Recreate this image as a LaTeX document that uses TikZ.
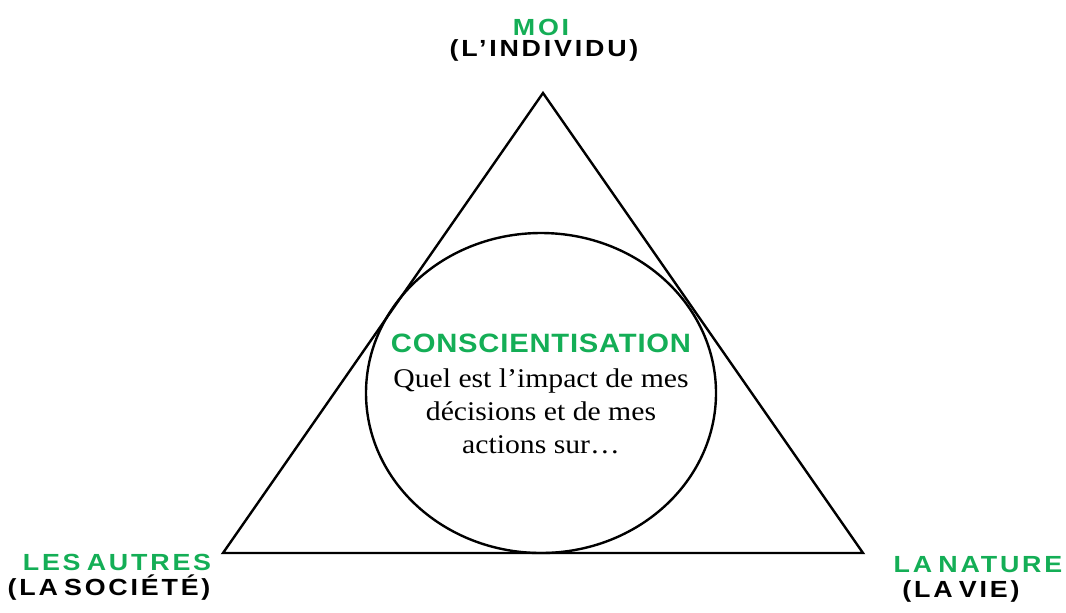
\documentclass[tikz,border=0pt]{standalone}
\usepackage{fontspec}
\setmainfont{Liberation Serif}[FakeStretch=1.1]
\newfontfamily\labelfont{Liberation Sans}[FakeStretch=1.15,LetterSpace=12,WordSpace=0.6]
\newfontfamily\titlefont{Liberation Sans}[FakeStretch=1.1,LetterSpace=3]
\definecolor{moigreen}{RGB}{20,174,86}
\begin{document}
\begin{tikzpicture}[x=0.75pt,y=-0.75pt,
                    line width=1.8pt,
                    corner label/.style={anchor=base,inner sep=0pt,font=\labelfont\bfseries\fontsize{17.5}{19}\selectfont},
                    green label/.style={corner label,text=moigreen},
                    question text/.style={anchor=base,inner sep=0pt,align=center,font=\fontsize{20.25}{24.75}\selectfont}]

        \useasboundingbox (0,0) rectangle (1066,612);

        % Define vertices
        \coordinate (top) at (543,93);
        \coordinate (left) at (223,553);
        \coordinate (right) at (863,553);
        \coordinate (centre) at (541,393);

        \draw (top) -- (left) -- (right) -- cycle;
        \draw (centre) ellipse [x radius=131.25pt, y radius=120pt];

        % Corner labels
        \node[green label] (moi) at (541,35) {MOI};
        \node[corner label] (individu) at (544,56) {(L’INDIVIDU)};
        \node[green label] (autres) at (117,570) {LES AUTRES};
        \node[corner label] (societe) at (109,595) {(LA SOCIÉTÉ)};
        \node[green label] (nature) at (978,572) {LA NATURE};
        \node[corner label] (vie) at (961,597) {(LA VIE)};

        % Centre text
        \node[anchor=base,inner sep=0pt,text=moigreen,font=\titlefont\bfseries\fontsize{19.9}{22}\selectfont] (title) at (541,352) {CONSCIENTISATION};
        \node[question text] (question) at (541,453) {Quel est l’impact de mes\\décisions et de mes\\actions sur…};
\end{tikzpicture}
\end{document}
